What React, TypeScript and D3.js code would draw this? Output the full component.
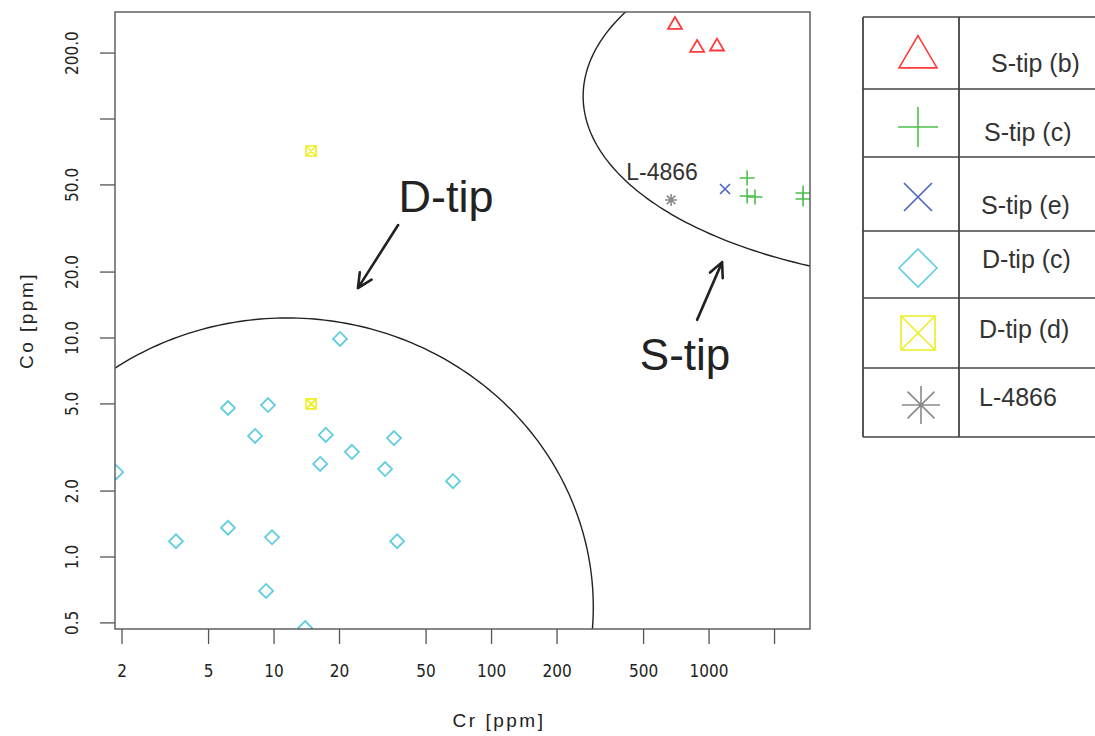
import React from "react";
import * as d3 from "d3";

// ---- data (Cr, Co in ppm) ----
const sTipB_Cr = [697, 881, 1088];
const sTipB_Co = [271, 213, 216];
const sTipC_Cr = [1496, 1496, 1627, 2705, 2705];
const sTipC_Co = [53.8, 44.5, 44.0, 45.9, 43.1];
const sTipE_Cr = [1184];
const sTipE_Co = [47.9];
const dTipC_Cr = [20.1, 6.14, 9.38, 8.18, 17.3, 35.6, 22.8, 16.3, 32.4, 66.5, 1.88, 3.54, 6.14, 9.79, 36.8, 9.19, 13.9];
const dTipC_Co = [9.9, 4.79, 4.94, 3.57, 3.61, 3.49, 3.02, 2.66, 2.52, 2.22, 2.44, 1.18, 1.36, 1.23, 1.18, 0.70, 0.474];
const dTipD_Cr = [14.8, 14.8];
const dTipD_Co = [71.4, 5.0];
const l4866_Cr = [669];
const l4866_Co = [42.7];

const xTicks = [2, 5, 10, 20, 50, 100, 200, 500, 1000, 2000];
const xTickLabels = ["2", "5", "10", "20", "50", "100", "200", "500", "1000", ""];
const yTicks = [0.5, 1, 2, 5, 10, 20, 50, 100, 200];
const yTickLabels = ["0.5", "1.0", "2.0", "5.0", "10.0", "20.0", "50.0", "", "200.0"];

const legendLabels = ["S-tip (b)", "S-tip (c)", "S-tip (e)", "D-tip (c)", "D-tip (d)", "L-4866"];
const legendShapes = ["tri", "plus", "x", "diamond", "boxx", "star"];
const legendColors = ["#ff3b3b", "#4cc04c", "#4a62c0", "#62cde0", "#eeee22", "#8a8a8a"];

// ellipses in log space: centre (Cr, Co), radii in decades
const dEllipse = { cr: 11.5, co: 0.591, rx: 1.407, ry: 1.32 };
const sEllipse = { cr: 18200, co: 127, rx: 1.839, ry: 0.86 };

// annotation anchors (data coords)
const dLabel = { cr: 61.8, co: 44.5, text: "D-tip" };
const dArrow = { cr0: 37.2, co0: 32.8, cr1: 24.3, co1: 16.9 };
const sLabel = { cr: 776, co: 8.36, text: "S-tip" };
const sArrow = { cr0: 881, co0: 12.1, cr1: 1148, co1: 22.2 };
const lLabel = { cr: 608, co: 57.3, text: "L-4866" };

// ---- layout ----
const W = 1095, H = 736;
const L = 115, R = 810, T = 12, B = 629;

const x = d3.scaleLog().domain([1.857, 2911]).range([L, R]);
const y = d3.scaleLog().domain([0.469, 308]).range([B, T]);

function marker(shape: string, cx: number, cy: number, s: number, color: string, key: string, sw = 1.4) {
  const h = s / 2;
  switch (shape) {
    case "tri": {
      const hh = s * 0.85;
      return <path key={key} d={`M${cx},${cy - hh * 0.6}L${cx + h},${cy + hh * 0.4}L${cx - h},${cy + hh * 0.4}Z`} fill="none" stroke={color} strokeWidth={sw} strokeLinejoin="miter" />;
    }
    case "plus":
      return <path key={key} d={`M${cx - h},${cy}H${cx + h}M${cx},${cy - h}V${cy + h}`} stroke={color} strokeWidth={sw} fill="none" />;
    case "x":
      return <path key={key} d={`M${cx - h},${cy - h}L${cx + h},${cy + h}M${cx - h},${cy + h}L${cx + h},${cy - h}`} stroke={color} strokeWidth={sw} fill="none" />;
    case "diamond":
      return <path key={key} d={`M${cx},${cy - h}L${cx + h},${cy}L${cx},${cy + h}L${cx - h},${cy}Z`} stroke={color} strokeWidth={sw} fill="none" />;
    case "boxx":
      return <path key={key} d={`M${cx - h},${cy - h}H${cx + h}V${cy + h}H${cx - h}ZM${cx - h},${cy - h}L${cx + h},${cy + h}M${cx - h},${cy + h}L${cx + h},${cy - h}`} stroke={color} strokeWidth={sw} fill="none" />;
    case "star": {
      const d = h * 0.707;
      return <path key={key} d={`M${cx - h},${cy}H${cx + h}M${cx},${cy - h}V${cy + h}M${cx - d},${cy - d}L${cx + d},${cy + d}M${cx - d},${cy + d}L${cx + d},${cy - d}`} stroke={color} strokeWidth={sw} fill="none" />;
    }
  }
  return null;
}

function ellipsePath(e: { cr: number; co: number; rx: number; ry: number }) {
  const pts: [number, number][] = [];
  for (let i = 0; i <= 360; i++) {
    const t = (i / 360) * 2 * Math.PI;
    const lx = Math.log10(e.cr) + e.rx * Math.cos(t);
    const ly = Math.log10(e.co) + e.ry * Math.sin(t);
    pts.push([x(Math.pow(10, lx)), y(Math.pow(10, ly))]);
  }
  return d3.line()(pts) as string;
}

function arrow(a: { cr0: number; co0: number; cr1: number; co1: number }, key: string) {
  const x0 = x(a.cr0), y0 = y(a.co0), x1 = x(a.cr1), y1 = y(a.co1);
  const ang = Math.atan2(y1 - y0, x1 - x0);
  const len = 16, spread = Math.PI / 7;
  const ax = x1 - len * Math.cos(ang - spread), ay = y1 - len * Math.sin(ang - spread);
  const bx = x1 - len * Math.cos(ang + spread), by = y1 - len * Math.sin(ang + spread);
  return (
    <path key={key} d={`M${x0},${y0}L${x1},${y1}M${ax},${ay}L${x1},${y1}L${bx},${by}`} stroke="#222" strokeWidth={2.6} fill="none" strokeLinecap="round" strokeLinejoin="round" />
  );
}

const series = [
  { cr: sTipB_Cr, co: sTipB_Co, shape: "tri", color: legendColors[0], size: 14 },
  { cr: sTipC_Cr, co: sTipC_Co, shape: "plus", color: legendColors[1], size: 15 },
  { cr: sTipE_Cr, co: sTipE_Co, shape: "x", color: legendColors[2], size: 10 },
  { cr: dTipC_Cr, co: dTipC_Co, shape: "diamond", color: legendColors[3], size: 14 },
  { cr: dTipD_Cr, co: dTipD_Co, shape: "boxx", color: legendColors[4], size: 10 },
  { cr: l4866_Cr, co: l4866_Co, shape: "star", color: legendColors[5], size: 12 },
];

const rowLines = [17, 89, 157, 231, 298, 368, 437];
const legendTextPos = [
  [991, 63], [984, 132], [981, 205], [982, 259], [979, 329], [979, 397],
];
const legendSymPos = [
  [918, 55], [918, 127], [918, 197], [918, 268], [918, 333], [921, 405],
];
const legendSymSize = [38, 40, 28, 38, 34, 38];

export default function App() {
  const tickFont = "'Liberation Sans Narrow', 'DejaVu Sans Condensed', 'Liberation Sans', sans-serif";
  return (
    <div style={{ position: "absolute", left: 0, top: 0 }}>
      <svg width={W} height={H} style={{ display: "block", background: "#fff" }}>
        <defs>
          <clipPath id="plotclip">
            <rect x={L} y={T} width={R - L} height={B - T} />
          </clipPath>
        </defs>
        <g clipPath="url(#plotclip)">
          <path d={ellipsePath(dEllipse)} fill="none" stroke="#222" strokeWidth={1.4} />
          <path d={ellipsePath(sEllipse)} fill="none" stroke="#222" strokeWidth={1.4} />
          {series.map((s, si) =>
            s.cr.map((v, i) => marker(s.shape, x(v), y(s.co[i]), s.size, s.color, `m${si}-${i}`, s.shape === "diamond" || s.shape === "tri" ? 1.8 : 1.6))
          )}
        </g>
        <rect x={L} y={T} width={R - L} height={B - T} fill="none" stroke="#555" strokeWidth={1.4} />
        {xTicks.map((t, i) => (
          <g key={`xt${i}`}>
            <line x1={x(t)} x2={x(t)} y1={B} y2={B + 15} stroke="#555" strokeWidth={1.3} />
            <text x={x(t)} y={677} textAnchor="middle" fontFamily={tickFont} fontSize={17} fill="#222">{xTickLabels[i]}</text>
          </g>
        ))}
        {yTicks.map((t, i) => (
          <g key={`yt${i}`}>
            <line x1={L - 15} x2={L} y1={y(t)} y2={y(t)} stroke="#555" strokeWidth={1.3} />
            <text transform={`translate(${78},${y(t)}) rotate(-90)`} textAnchor="middle" fontFamily={tickFont} fontSize={17} fill="#222">{yTickLabels[i]}</text>
          </g>
        ))}
        <text x={499} y={727} textAnchor="middle" fontFamily="'Liberation Sans', sans-serif" fontSize={19} letterSpacing={2.5} fill="#222">Cr [ppm]</text>
        <text transform={`translate(33,${(T + B) / 2}) rotate(-90)`} textAnchor="middle" fontFamily="'Liberation Sans', sans-serif" fontSize={19} letterSpacing={2.5} fill="#222">Co [ppm]</text>
        <text x={x(dLabel.cr)} y={y(dLabel.co)} dy="0.35em" textAnchor="middle" fontFamily="'Liberation Sans', Arial, sans-serif" fontSize={45} fill="#222">{dLabel.text}</text>
        <text x={x(sLabel.cr)} y={y(sLabel.co)} dy="0.35em" textAnchor="middle" fontFamily="'Liberation Sans', Arial, sans-serif" fontSize={44} fill="#222">{sLabel.text}</text>
        <text x={x(lLabel.cr)} y={y(lLabel.co)} dy="0.35em" textAnchor="middle" fontFamily="'Liberation Sans', Arial, sans-serif" fontSize={23} fill="#333">{lLabel.text}</text>
        {arrow(dArrow, "a1")}
        {arrow(sArrow, "a2")}
        <g>
          {rowLines.map((ry, i) => (
            <line key={`rl${i}`} x1={863} x2={W} y1={ry} y2={ry} stroke="#444" strokeWidth={1.6} />
          ))}
          <line x1={863} x2={863} y1={rowLines[0]} y2={rowLines[rowLines.length - 1]} stroke="#444" strokeWidth={1.8} />
          <line x1={959} x2={959} y1={rowLines[0]} y2={rowLines[rowLines.length - 1]} stroke="#444" strokeWidth={1.8} />
          {legendLabels.map((lab, i) =>
            marker(legendShapes[i], legendSymPos[i][0], legendSymPos[i][1], legendSymSize[i], legendColors[i], `lm${i}`, 1.6)
          )}
          {legendLabels.map((lab, i) => (
            <text key={`lt${i}`} x={legendTextPos[i][0]} y={legendTextPos[i][1]} dy="0.35em" fontFamily="'Liberation Sans', Arial, sans-serif" fontSize={25} fill="#333">{lab}</text>
          ))}
        </g>
      </svg>
    </div>
  );
}
